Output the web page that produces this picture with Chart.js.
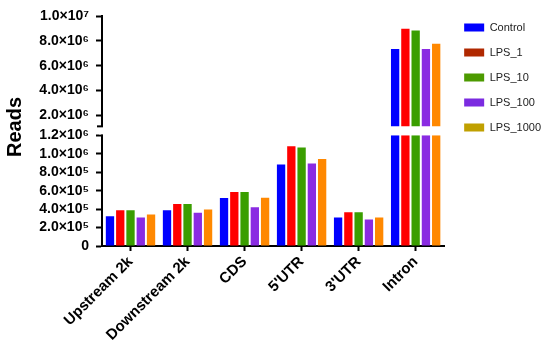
<!DOCTYPE html>
<html>
<head>
<meta charset="utf-8">
<script src="https://cdn.jsdelivr.net/npm/chart.js@4"></script>
<style>
  html, body { margin: 0; padding: 0; background: #fff; }
  #wrap { width: 550px; height: 350px; }
</style>
</head>
<body>
<div id="wrap"><canvas id="chart-reads"></canvas></div>
<script>
const categories = ['Upstream 2k', 'Downstream 2k', 'CDS', "5'UTR", "3'UTR", 'Intron'];
const seriesNames = ['Control', 'LPS_1', 'LPS_10', 'LPS_100', 'LPS_1000'];

const control = [3.23e5, 3.89e5, 5.20e5, 8.84e5, 3.09e5, 7.35e6];
const lps1 = [3.89e5, 4.55e5, 5.86e5, 1.081e6, 3.67e5, 8.98e6];
const lps10 = [3.89e5, 4.55e5, 5.86e5, 1.067e6, 3.67e5, 8.84e6];
const lps100 = [3.09e5, 3.60e5, 4.19e5, 8.95e5, 2.87e5, 7.35e6];
const lps1000 = [3.42e5, 3.97e5, 5.24e5, 9.43e5, 3.09e5, 7.76e6];

const lowTicks = [0, 2e5, 4e5, 6e5, 8e5, 1e6, 1.2e6];
const lowTickLabels = ['0', '2.0×10⁵', '4.0×10⁵', '6.0×10⁵', '8.0×10⁵', '1.0×10⁶', '1.2×10⁶'];
const highTicks = [2e6, 4e6, 6e6, 8e6, 1e7];
const highTickLabels = ['2.0×10⁶', '4.0×10⁶', '6.0×10⁶', '8.0×10⁶', '1.0×10⁷'];

const barColors = ['#0000ff', '#ff0000', '#3a9e00', '#8a2be2', '#ff8800'];
const legendColors = ['#0000ff', '#b02800', '#4c9a00', '#7b2be0', '#c0a000'];

const allSeries = [control, lps1, lps10, lps100, lps1000];
const GAP = 9; // white break between the two axis segments

const datasets = [];
allSeries.forEach((values, i) => {
  ['yLow', 'yHigh'].forEach(axis => {
    datasets.push({
      label: seriesNames[i],
      data: values,
      yAxisID: axis,
      stack: 's' + i,
      backgroundColor: barColors[i],
      borderWidth: 0,
      barPercentage: 0.81,
      categoryPercentage: 0.9
    });
  });
});

// keep each dataset inside its own axis segment
const bandClip = {
  id: 'bandClip',
  beforeDatasetDraw(chart, args) {
    const meta = args.meta;
    const s = chart.scales[meta.yAxisID];
    const a = chart.chartArea;
    const bottom = meta.yAxisID === 'yHigh' ? s.bottom - GAP : s.bottom;
    chart.ctx.save();
    chart.ctx.beginPath();
    chart.ctx.rect(a.left, s.top, a.right - a.left, bottom - s.top);
    chart.ctx.clip();
  },
  afterDatasetDraw(chart) {
    chart.ctx.restore();
  }
};

// nudge the legend next to the plot like the original
const legendSpot = {
  id: 'legendSpot',
  afterLayout(chart) {
    const lg = chart.legend;
    lg.left = chart.chartArea.right + 20 - lg.options.labels.padding;
    lg.right = chart.width;
    lg.width = lg.right - lg.left;
    lg.top -= 8;
    lg.bottom -= 8;
  }
};

// axis break + y title
const axisBreak = {
  id: 'axisBreak',
  afterDraw(chart) {
    const ctx = chart.ctx;
    const hi = chart.scales.yHigh;
    const x0 = chart.chartArea.left;
    ctx.save();
    ctx.fillStyle = '#fff';
    ctx.fillRect(x0 - 3, hi.bottom - GAP, 6, GAP - 1);
    ctx.strokeStyle = '#000';
    ctx.lineWidth = 2;
    ctx.beginPath();
    ctx.moveTo(x0 - 5, hi.bottom - GAP);
    ctx.lineTo(x0 + 1, hi.bottom - GAP);
    ctx.stroke();

    const a = chart.chartArea;
    ctx.translate(15, (a.top + a.bottom) / 2 - 4);
    ctx.rotate(-Math.PI / 2);
    ctx.fillStyle = '#000';
    ctx.font = 'bold 20px "Liberation Sans", Arial, sans-serif';
    ctx.textAlign = 'center';
    ctx.textBaseline = 'middle';
    ctx.fillText('Reads', 0, 0);
    ctx.restore();
  }
};

const tickFont = { family: '"Liberation Sans", Arial, sans-serif', size: 14, weight: 'bold' };

new Chart(document.getElementById('chart-reads'), {
  type: 'bar',
  data: { labels: categories, datasets: datasets },
  options: {
    responsive: true,
    maintainAspectRatio: false,
    animation: false,
    layout: { padding: { top: 16, right: 17, left: 0, bottom: 0 } },
    plugins: {
      tooltip: { enabled: false },
      legend: {
        position: 'right',
        align: 'start',
        labels: {
          boxWidth: 20,
          boxHeight: 8,
          padding: 14,
          color: '#222',
          font: { family: '"Liberation Sans", Arial, sans-serif', size: 11 },
          generateLabels(chart) {
            const items = Chart.defaults.plugins.legend.labels.generateLabels(chart)
              .filter(it => it.datasetIndex % 2 === 0);
            items.forEach((it, i) => {
              it.fillStyle = legendColors[i];
              it.strokeStyle = legendColors[i];
              it.lineWidth = 0;
            });
            return items;
          }
        }
      }
    },
    scales: {
      x: {
        grid: { display: true, drawOnChartArea: false, offset: false, tickLength: 5, tickWidth: 2, tickColor: '#000' },
        border: { color: '#000', width: 2 },
        ticks: { color: '#000', font: { family: '"Liberation Sans", Arial, sans-serif', size: 15, weight: 'bold' }, maxRotation: 45, minRotation: 45, autoSkip: false, padding: 2 },
        afterFit(s) { s.height = 104; }
      },
      yLow: {
        type: 'linear',
        position: 'left',
        stack: 'reads',
        stackWeight: 110.6,
        stacked: false,
        min: 0,
        max: 1.2e6,
        grid: { display: true, drawOnChartArea: false, tickLength: 6, tickWidth: 2, tickColor: '#000' },
        border: { color: '#000', width: 2 },
        ticks: {
          color: '#000', font: tickFont, padding: 7, autoSkip: false,
          callback(v) { return lowTickLabels[lowTicks.indexOf(v)]; }
        },
        afterBuildTicks(s) { s.ticks = lowTicks.map(v => ({ value: v })); },
        afterFit(s) { s.width = 102; }
      },
      yHigh: {
        type: 'linear',
        position: 'left',
        stack: 'reads',
        stackWeight: 119.3,
        stacked: false,
        min: 4e5,
        max: 1e7,
        grid: { display: true, drawOnChartArea: false, tickLength: 6, tickWidth: 2, tickColor: '#000' },
        border: { color: '#000', width: 2 },
        ticks: {
          color: '#000', font: tickFont, padding: 7, autoSkip: false,
          callback(v) { return highTickLabels[highTicks.indexOf(v)]; }
        },
        afterBuildTicks(s) { s.ticks = highTicks.map(v => ({ value: v })); },
        afterFit(s) { s.width = 102; }
      }
    }
  },
  plugins: [bandClip, legendSpot, axisBreak]
});
</script>
</body>
</html>
